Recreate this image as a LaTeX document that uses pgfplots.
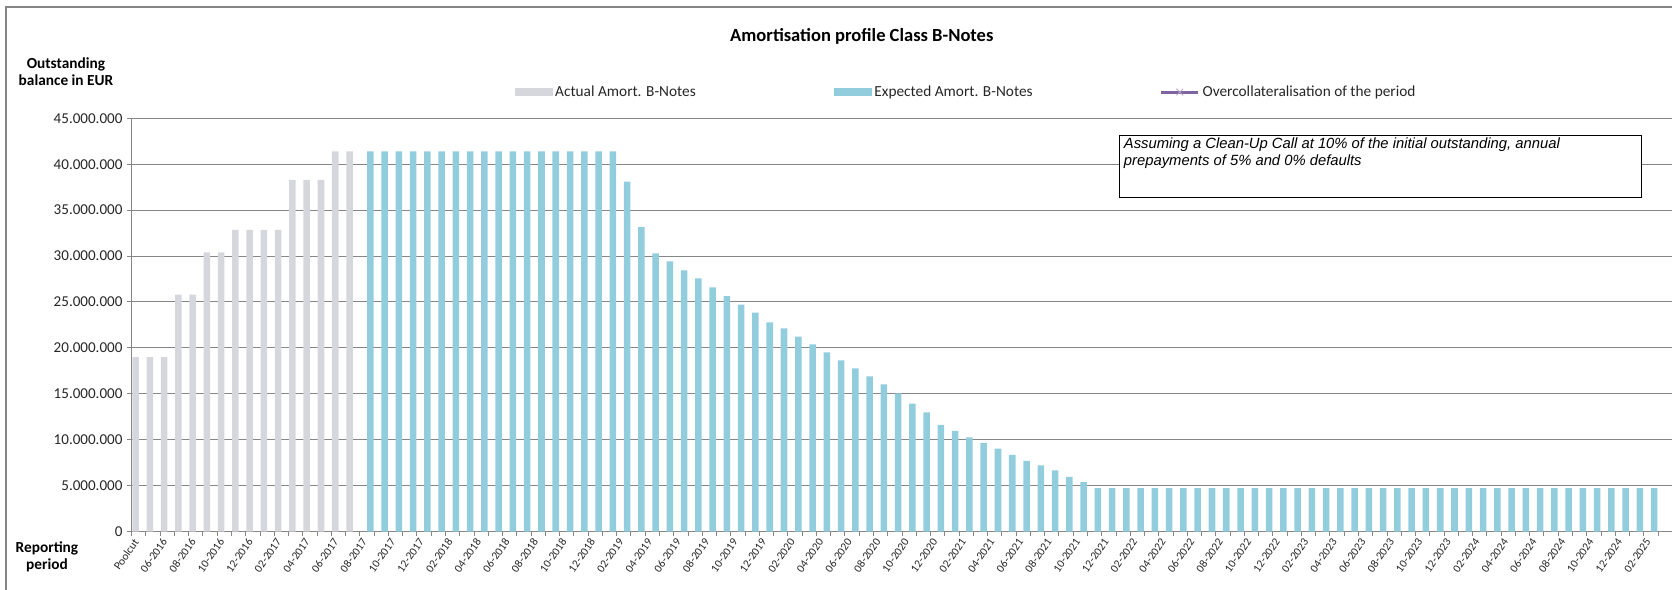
\documentclass[border=0pt]{standalone}
\usepackage{fontspec}
\setmainfont{Carlito}
\newfontfamily\arialfont{Liberation Sans}
\usepackage{pgfplots}
\usepackage{pgfplotstable}
\pgfplotsset{compat=1.18}

\definecolor{actgrey}{RGB}{214,215,220}
\definecolor{expblue}{RGB}{146,205,221}
\definecolor{ocpurple}{RGB}{128,100,162}
\definecolor{gridgrey}{RGB}{134,134,134}

% actual outstanding balance (EUR)
\pgfplotstableread{
x y
0 19000000
1 19000000
2 19000000
3 25800000
4 25800000
5 30400000
6 30400000
7 32850000
8 32850000
9 32850000
10 32850000
11 38300000
12 38300000
13 38300000
14 41400000
15 41400000
}\actual

% expected outstanding balance (EUR)
\pgfplotstableread{
x y
16 41400000
17 41400000
18 41400000
19 41400000
20 41400000
21 41400000
22 41400000
23 41400000
24 41400000
25 41400000
26 41400000
27 41400000
28 41400000
29 41400000
30 41400000
31 41400000
32 41400000
33 41400000
34 38100000
35 33160000
36 30300000
37 29430000
38 28450000
39 27580000
40 26600000
41 25650000
42 24710000
43 23840000
44 22790000
45 22130000
46 21230000
47 20390000
48 19520000
49 18650000
50 17780000
51 16910000
52 16040000
53 15060000
54 13930000
55 12990000
56 11610000
57 10960000
58 10270000
59 9620000
60 9030000
61 8350000
62 7690000
63 7220000
64 6650000
65 5960000
66 5380000
67 4720000
68 4720000
69 4720000
70 4720000
71 4720000
72 4720000
73 4720000
74 4720000
75 4720000
76 4720000
77 4720000
78 4720000
79 4720000
80 4720000
81 4720000
82 4720000
83 4720000
84 4720000
85 4720000
86 4720000
87 4720000
88 4720000
89 4720000
90 4720000
91 4720000
92 4720000
93 4720000
94 4720000
95 4720000
96 4720000
97 4720000
98 4720000
99 4720000
100 4720000
101 4720000
102 4720000
103 4720000
104 4720000
105 4720000
106 4720000
}\expected

\begin{document}
\begin{tikzpicture}

\begin{axis}[
    scale only axis,
    width=1155.2pt, height=310pt,
    xmin=-0.5, xmax=107.44,
    ymin=0, ymax=45000000,
    ybar, bar width=4.9pt,
    axis x line*=bottom, axis y line*=left,
    axis line style={gridgrey, line width=0.75pt},
    ymajorgrids, grid style={gridgrey, line width=0.75pt},
    tick align=outside,
    tick style={gridgrey, line width=0.75pt},
    major tick length=3.4pt, minor tick length=3.4pt,
    every major x tick/.append style={opacity=0},
    scaled y ticks=false,
    ytick={0,5000000,10000000,15000000,20000000,25000000,30000000,35000000,40000000,45000000},
    yticklabels={0,5.000.000,10.000.000,15.000.000,20.000.000,25.000.000,30.000.000,35.000.000,40.000.000,45.000.000},
    yticklabel style={font=\fontsize{11.3}{13}\selectfont, text=black!85},
    xtick={0,2,...,106},
    minor xtick={-0.5,0.5,...,106.5},
    xticklabels={Poolcut,06-2016,08-2016,10-2016,12-2016,02-2017,04-2017,06-2017,08-2017,10-2017,12-2017,02-2018,04-2018,06-2018,08-2018,10-2018,12-2018,02-2019,04-2019,06-2019,08-2019,10-2019,12-2019,02-2020,04-2020,06-2020,08-2020,10-2020,12-2020,02-2021,04-2021,06-2021,08-2021,10-2021,12-2021,02-2022,04-2022,06-2022,08-2022,10-2022,12-2022,02-2023,04-2023,06-2023,08-2023,10-2023,12-2023,02-2024,04-2024,06-2024,08-2024,10-2024,12-2024,02-2025},
    xticklabel style={font=\fontsize{8.5}{10}\selectfont, rotate=55, anchor=east, text=black!85},
    legend columns=3,
    legend style={at={(0.2489,1.0636)}, anchor=west, draw=none, fill=none,
        inner sep=0pt, font=\fontsize{11.5}{13}\selectfont, text=black!85},
    legend cell align=left,
]
\coordinate (sw) at (rel axis cs:0,0);
\addplot[fill=actgrey, draw=none, bar shift=-2.44pt,
    legend image code/.code={\fill[actgrey] (0pt,-3pt) rectangle (28pt,3pt);}]
    table[x=x, y=y] {\actual};
\addlegendentry{\makebox[207.5pt][l]{Actual Amort. B-Notes}}
\addplot[fill=expblue, draw=none, bar shift=2.44pt,
    legend image code/.code={\fill[expblue] (0pt,-3pt) rectangle (28pt,3pt);}]
    table[x=x, y=y] {\expected};
\addlegendentry{\makebox[212pt][l]{Expected Amort. B-Notes}}
\addlegendimage{legend image code/.code={
    \draw[ocpurple, line width=2.2pt] (0pt,0pt) -- (28pt,0pt);
    \draw[ocpurple!60, line width=0.6pt] (11.5pt,-2.5pt) -- (16.5pt,2.5pt) (11.5pt,2.5pt) -- (16.5pt,-2.5pt);}}
\addlegendentry{Overcollateralisation of the period}
\end{axis}

% everything else in pixel units of the 1672x590 picture, y measured from the bottom
\begin{scope}[shift={(sw)}, x=0.75pt, y=0.75pt, shift={(-131.7,-58.3)}]
\path[use as bounding box] (0,0) rectangle (1672,590);

% note box
\draw[black, line width=1.1pt, fill=white] (1120,454.6) rectangle (1642,392.7);
\node[anchor=north west, inner sep=0pt, align=left,
    font=\arialfont\itshape\fontsize{11.1}{12.6}\selectfont]
    at (1124,452) {Assuming a Clean-Up Call at 10\% of the initial outstanding, annual\\prepayments of 5\% and 0\% defaults};

% title and axis captions
\node[font=\bfseries\fontsize{13.9}{16}\selectfont] at (862,554) {Amortisation profile Class B-Notes};
\node[font=\bfseries\fontsize{11.5}{12.6}\selectfont, align=center] at (66,518) {Outstanding\\balance in EUR};
\node[font=\bfseries\fontsize{11.5}{12.6}\selectfont, align=center] at (47,33) {Reporting\\period};

% chart frame
\draw[gridgrey, line width=1.5pt] (6,0) -- (6,583) -- (1672,583);
\end{scope}
\end{tikzpicture}
\end{document}
